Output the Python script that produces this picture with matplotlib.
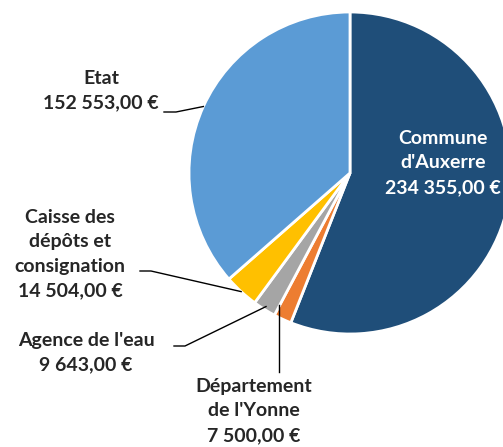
import numpy as np
import matplotlib
matplotlib.use("Agg")
import matplotlib.pyplot as plt

# Data
categories = ["Commune\nd'Auxerre", "Département\nde l'Yonne", "Agence de l'eau",
              "Caisse des\ndépôts et\nconsignation", "Etat"]
values = [234355.00, 7500.00, 9643.00, 14504.00, 152553.00]
value_labels = ["234 355,00 €", "7 500,00 €", "9 643,00 €", "14 504,00 €", "152 553,00 €"]
colors = ["#1F4E79", "#ED7D31", "#A5A5A5", "#FFC000", "#5B9BD5"]

W, H = 503, 447
fig = plt.figure(figsize=(W / 100, H / 100), dpi=100)
ax = fig.add_axes([0, 0, 1, 1])
ax.set_xlim(0, W)
ax.set_ylim(0, H)
ax.set_aspect("equal")
ax.axis("off")

cx, cy, r = 350, 447 - 173, 161
wedges, _ = ax.pie(values, colors=colors, startangle=90, counterclock=False,
                   center=(cx, cy), radius=r, frame=True,
                   wedgeprops=dict(edgecolor="white", linewidth=2))
ax.set_xlim(0, W)
ax.set_ylim(0, H)
ax.axis("off")

font = dict(family="Lato", fontweight="bold", fontsize=14, linespacing=1.52)
txtc = "#262626"


def edge_point(w, frac=1.0):
    ang = np.deg2rad((w.theta1 + w.theta2) / 2)
    return cx + frac * r * np.cos(ang), cy + frac * r * np.sin(ang)


def py(y):
    return H - y

# Commune (inside)
ax.text(443, py(163), categories[0] + "\n" + value_labels[0], color="white",
        ha="center", va="center", **font)

# Etat
ax.text(101, py(91), categories[4] + "\n" + value_labels[4], color=txtc,
        ha="center", va="center", **font)
ex, ey = edge_point(wedges[4])
ax.plot([164, 176, ex], [py(112), py(112), ey], color="black", lw=1)

# Caisse
ax.text(70, py(254), categories[3] + "\n" + value_labels[3], color=txtc,
        ha="center", va="center", **font)
ex, ey = edge_point(wedges[3])
ax.plot([140, 151, ex], [py(271), py(271), ey], color="black", lw=1)

# Agence
ax.text(86, py(353), categories[2] + "\n" + value_labels[2], color=txtc,
        ha="center", va="center", **font)
ex, ey = edge_point(wedges[2], 0.98)
ax.plot([174, 185, ex], [py(346), py(346), ey], color="black", lw=1)

# Département
ax.text(254, py(411), categories[1] + "\n" + value_labels[1], color=txtc,
        ha="center", va="center", **font)
ex, ey = edge_point(wedges[1], 0.9)
ax.plot([279, 279], [py(372), ey], color="black", lw=1)

fig.savefig("out.png", dpi=100)
